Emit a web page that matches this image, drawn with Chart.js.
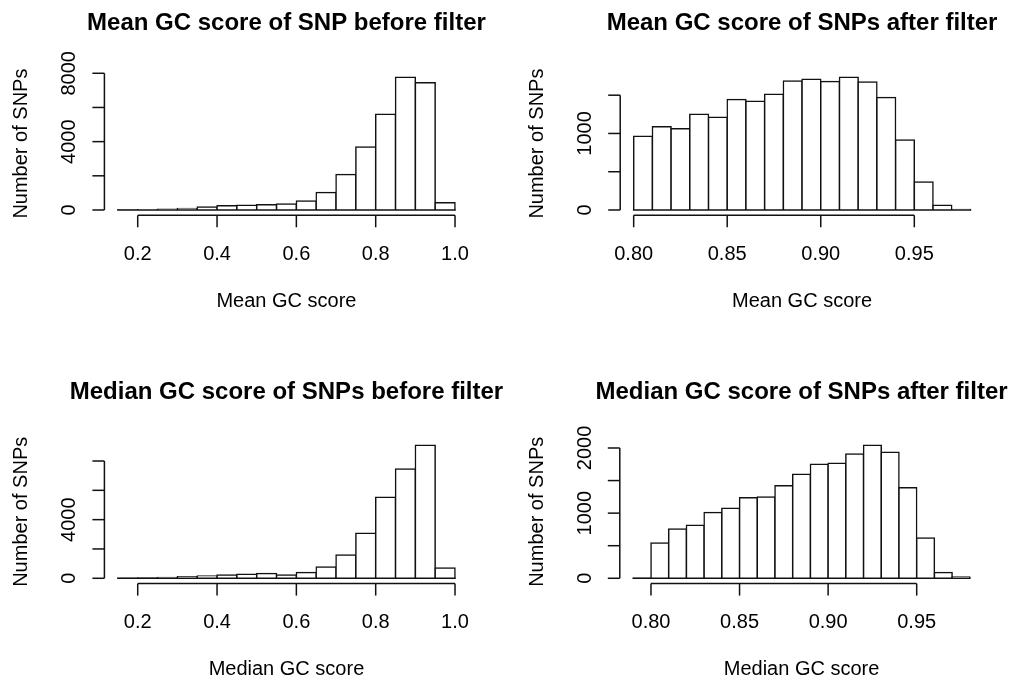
<!DOCTYPE html>
<html>
<head>
<meta charset="utf-8">
<script src="https://cdn.jsdelivr.net/npm/chart.js@4.4.1/dist/chart.umd.min.js"></script>
<style>
  html, body { margin: 0; padding: 0; background: #fff; }
  #page { position: relative; width: 1016px; height: 679px; overflow: hidden; }
  canvas { position: absolute; }
</style>
</head>
<body>
<div id="page">
  <canvas id="meanBefore" width="508" height="340" style="left:0;top:0;width:508px;height:340px"></canvas>
  <canvas id="meanAfter" width="508" height="340" style="left:508px;top:0;width:508px;height:340px"></canvas>
  <canvas id="medianBefore" width="508" height="339" style="left:0;top:340px;width:508px;height:339px"></canvas>
  <canvas id="medianAfter" width="508" height="339" style="left:508px;top:340px;width:508px;height:339px"></canvas>
</div>
<script>
// histogram breaks and counts
const beforeBreaks = [0.15, 0.20, 0.25, 0.30, 0.35, 0.40, 0.45, 0.50, 0.55, 0.60,
                      0.65, 0.70, 0.75, 0.80, 0.85, 0.90, 0.95, 1.00];
const meanBeforeCounts = [5, 15, 40, 80, 175, 250, 270, 310, 350, 530,
                          1030, 2070, 3690, 5600, 7770, 7450, 430];
const medianBeforeCounts = [5, 15, 45, 110, 160, 230, 270, 320, 230, 390,
                            770, 1590, 3070, 5520, 7450, 9070, 700];

const meanAfterBreaks = [0.80, 0.81, 0.82, 0.83, 0.84, 0.85, 0.86, 0.87, 0.88, 0.89,
                         0.90, 0.91, 0.92, 0.93, 0.94, 0.95, 0.96, 0.97, 0.98];
const meanAfterCounts = [965, 1087, 1061, 1252, 1213, 1443, 1422, 1513, 1687, 1709,
                         1678, 1735, 1674, 1470, 913, 365, 61, 5];

const medianAfterBreaks = [0.79, 0.80, 0.81, 0.82, 0.83, 0.84, 0.85, 0.86, 0.87, 0.88, 0.89,
                           0.90, 0.91, 0.92, 0.93, 0.94, 0.95, 0.96, 0.97, 0.98];
const medianAfterCounts = [1, 542, 757, 813, 1008, 1074, 1238, 1248, 1422, 1596,
                           1749, 1765, 1908, 2041, 1934, 1391, 619, 87, 20];

// axis ticks and labels (R drops labels that would overlap)
const beforeXTicks = [0.2, 0.4, 0.6, 0.8, 1.0];
const beforeXLabels = ['0.2', '0.4', '0.6', '0.8', '1.0'];
const afterXTicks = [0.80, 0.85, 0.90, 0.95];
const afterXLabels = ['0.80', '0.85', '0.90', '0.95'];

const meanBeforeYTicks = [0, 2000, 4000, 6000, 8000];
const meanBeforeYLabels = ['0', '', '4000', '', '8000'];
const medianBeforeYTicks = [0, 2000, 4000, 6000, 8000];
const medianBeforeYLabels = ['0', '', '4000', '', ''];
const meanAfterYTicks = [0, 500, 1000, 1500];
const meanAfterYLabels = ['0', '', '1000', ''];
const medianAfterYTicks = [0, 500, 1000, 1500, 2000];
const medianAfterYLabels = ['0', '', '1000', '', '2000'];

const FONT = '"Liberation Sans", Arial, Helvetica, sans-serif';
const LINE = 1.5;
const INK = '#111';

function line(ctx, x1, y1, x2, y2) {
    ctx.beginPath();
    ctx.moveTo(x1, y1);
    ctx.lineTo(x2, y2);
    ctx.stroke();
}

function upText(ctx, text, x, y) {
    ctx.save();
    ctx.translate(x, y);
    ctx.rotate(-Math.PI / 2);
    ctx.fillText(text, 0, 0);
    ctx.restore();
}

// base-R style axes: detached axis lines that only span the ticks
const rAxes = {
    id: 'rAxes',
    afterDatasetsDraw(chart, args, o) {
        const { ctx, chartArea: a, scales: { x, y } } = chart;
        ctx.save();
        ctx.strokeStyle = INK;
        ctx.fillStyle = '#000';
        ctx.lineWidth = LINE;

        line(ctx, x.getPixelForValue(o.breaks[0]) - LINE / 2, y.getPixelForValue(0),
             x.getPixelForValue(o.breaks[o.breaks.length - 1]) + LINE / 2, y.getPixelForValue(0));

        ctx.font = `20px ${FONT}`;
        ctx.textAlign = 'center';
        ctx.textBaseline = 'alphabetic';

        const xs = o.xTicks.map(v => x.getPixelForValue(v));
        line(ctx, xs[0], a.bottom, xs[xs.length - 1], a.bottom);
        xs.forEach((px, i) => {
            line(ctx, px, a.bottom, px, a.bottom + 12);
            ctx.fillText(o.xLabels[i], px, a.bottom + 44.5);
        });
        ctx.fillText(o.xTitle, (a.left + a.right) / 2, a.bottom + 91.5);

        const ys = o.yTicks.map(v => y.getPixelForValue(v));
        line(ctx, a.left, ys[0], a.left, ys[ys.length - 1]);
        ys.forEach((py, i) => {
            line(ctx, a.left - 12, py, a.left, py);
            if (o.yLabels[i]) upText(ctx, o.yLabels[i], a.left - 29.3, py);
        });
        upText(ctx, 'Number of SNPs', a.left - 77, (a.top + a.bottom) / 2);

        ctx.font = `bold 24px ${FONT}`;
        ctx.fillText(o.title, (a.left + a.right) / 2, a.top - 41.5);
        ctx.restore();
    }
};

function makeHist(id, breaks, counts, axes, padding) {
    const span = breaks[breaks.length - 1] - breaks[0];
    const top = Math.max(...counts);
    return new Chart(document.getElementById(id), {
        type: 'bar',
        data: {
            datasets: [{
                data: counts.map((c, i) => ({ x: (breaks[i] + breaks[i + 1]) / 2, y: c })),
                backgroundColor: '#fff',
                borderColor: INK,
                borderWidth: LINE,
                borderSkipped: 'start',
                barPercentage: 1,
                categoryPercentage: 1,
                inflateAmount: LINE / 2
            }]
        },
        options: {
            responsive: false,
            animation: false,
            devicePixelRatio: 1,
            layout: { padding, autoPadding: false },
            plugins: {
                legend: { display: false },
                tooltip: { enabled: false },
                rAxes: Object.assign({ breaks }, axes)
            },
            scales: {
                x: {
                    type: 'linear',
                    display: false,
                    offset: false,
                    min: breaks[0] - 0.04 * span,
                    max: breaks[breaks.length - 1] + 0.04 * span,
                    afterBuildTicks: s => { s.ticks = breaks.map(v => ({ value: v })); }
                },
                y: { type: 'linear', display: false, min: -0.04 * top, max: 1.04 * top }
            }
        },
        plugins: [rAxes]
    });
}

makeHist('meanBefore', beforeBreaks, meanBeforeCounts, {
    title: 'Mean GC score of SNP before filter', xTitle: 'Mean GC score',
    xTicks: beforeXTicks, xLabels: beforeXLabels,
    yTicks: meanBeforeYTicks, yLabels: meanBeforeYLabels
}, { left: 104.4, right: 39.5, top: 71.9, bottom: 124.7 });

makeHist('meanAfter', meanAfterBreaks, meanAfterCounts, {
    title: 'Mean GC score of SNPs after filter', xTitle: 'Mean GC score',
    xTicks: afterXTicks, xLabels: afterXLabels,
    yTicks: meanAfterYTicks, yLabels: meanAfterYLabels
}, { left: 112.2, right: 32.1, top: 71.9, bottom: 124.7 });

makeHist('medianBefore', beforeBreaks, medianBeforeCounts, {
    title: 'Median GC score of SNPs before filter', xTitle: 'Median GC score',
    xTicks: beforeXTicks, xLabels: beforeXLabels,
    yTicks: medianBeforeYTicks, yLabels: medianBeforeYLabels
}, { left: 104.4, right: 39.5, top: 100, bottom: 95.4 });

makeHist('medianAfter', medianAfterBreaks, medianAfterCounts, {
    title: 'Median GC score of SNPs after filter', xTitle: 'Median GC score',
    xTicks: afterXTicks, xLabels: afterXLabels,
    yTicks: medianAfterYTicks, yLabels: medianAfterYLabels
}, { left: 111.8, right: 32.7, top: 100, bottom: 95.4 });
</script>
</body>
</html>
